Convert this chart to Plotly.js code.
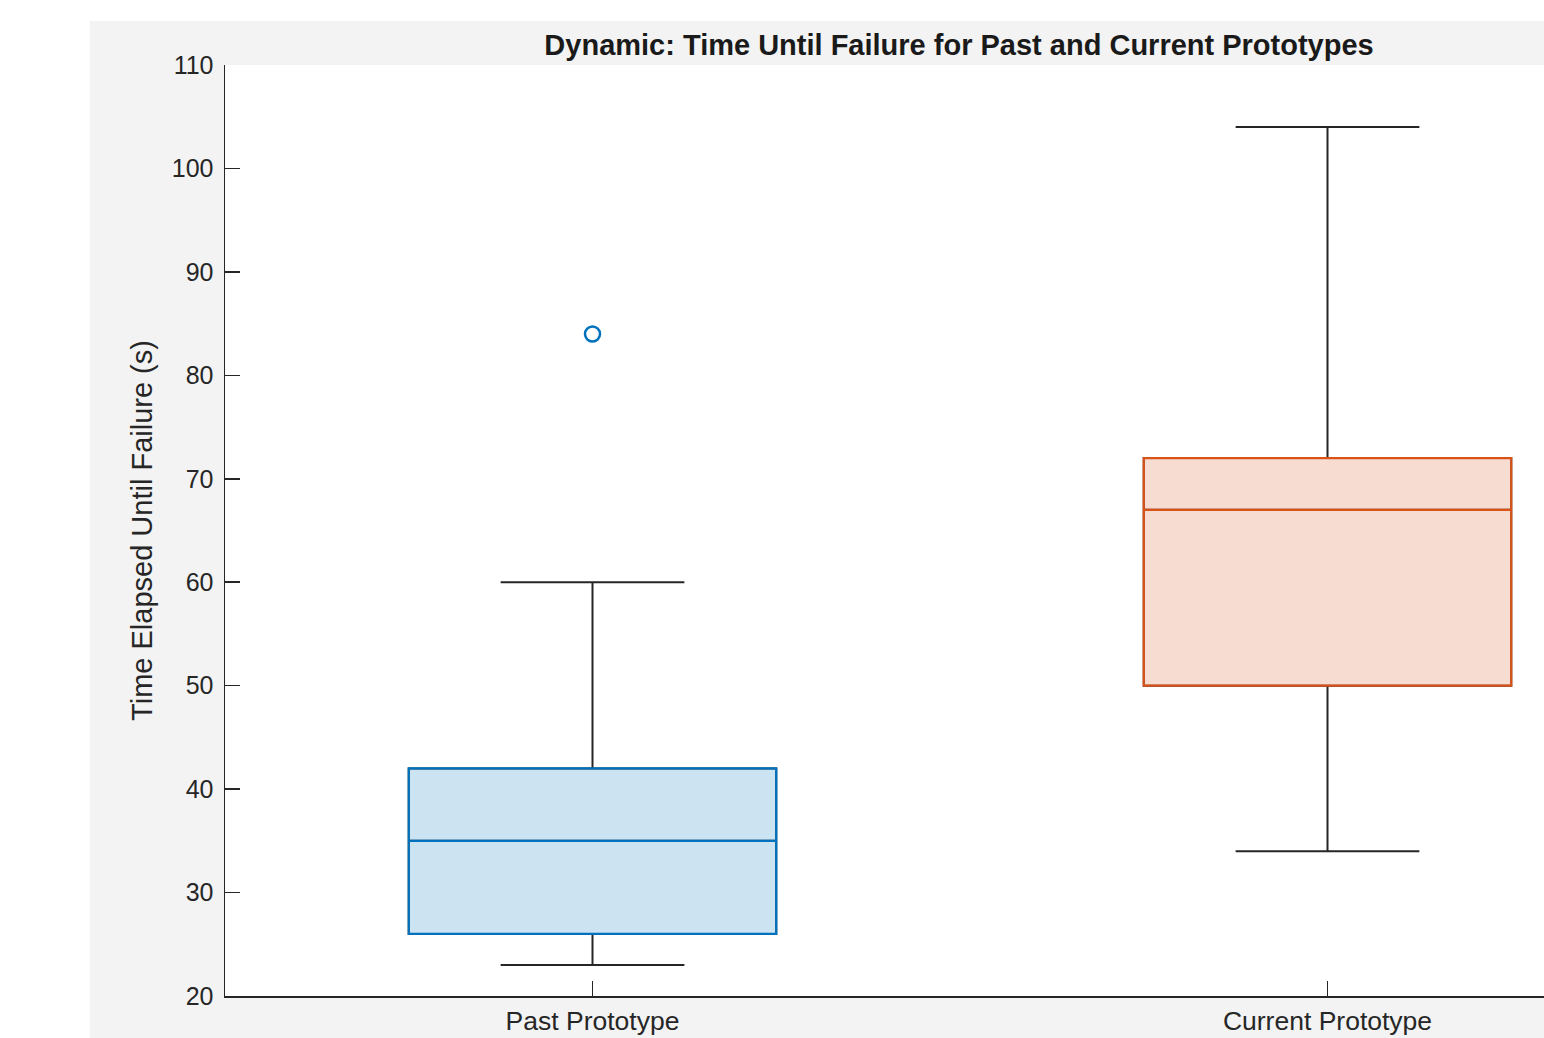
<!DOCTYPE html>
<html>
<head>
<meta charset="utf-8">
<script src="https://cdn.plot.ly/plotly-3.0.1.min.js"></script>
<style>
  html, body { margin: 0; padding: 0; background: #ffffff; overflow: hidden; width: 1544px; height: 1038px; }
  #chart { position: absolute; left: 90px; top: 21px; width: 1454px; height: 1017px; }
</style>
</head>
<body>
<div id="chart"></div>
<script>
// ---- Data ----
const categories = ['Past Prototype', 'Current Prototype'];
const lowerWhisker = [23, 34];
const q1Values = [26, 50];
const medianValues = [35, 67];
const q3Values = [42, 72];
const upperWhisker = [60, 104];
const outlierCategories = ['Past Prototype'];
const outlierValues = [84];
const yTickValues = [20, 30, 40, 50, 60, 70, 80, 90, 100, 110];

const lineColors = ['#0072BD', '#D95319'];
const fillColors = ['rgba(0,114,189,0.2)', 'rgba(217,83,25,0.2)'];
const whiskerColor = '#262626';

const FONT = '"Liberation Sans", Arial, Helvetica, sans-serif';

const traces = [];
// Whisker layer (dark gray) underneath
categories.forEach((c, i) => {
  traces.push({
    type: 'box', x: [c],
    q1: [q1Values[i]], median: [medianValues[i]], q3: [q3Values[i]],
    lowerfence: [lowerWhisker[i]], upperfence: [upperWhisker[i]],
    width: 0.5, whiskerwidth: 0.5,
    line: { color: whiskerColor, width: 2 },
    fillcolor: 'rgba(0,0,0,0)',
    hoverinfo: 'skip', showlegend: false
  });
});
// Coloured box layer on top
categories.forEach((c, i) => {
  traces.push({
    type: 'box', x: [c],
    q1: [q1Values[i]], median: [medianValues[i]], q3: [q3Values[i]],
    lowerfence: [q1Values[i]], upperfence: [q3Values[i]],
    width: 0.5, whiskerwidth: 0,
    line: { color: lineColors[i], width: 2.2 },
    fillcolor: fillColors[i],
    hoverinfo: 'skip', showlegend: false
  });
});
// Outliers
traces.push({
  type: 'scatter', mode: 'markers',
  x: outlierCategories, y: outlierValues,
  marker: { symbol: 'circle-open', size: 15, color: lineColors[0], line: { width: 2.5, color: lineColors[0] } },
  hoverinfo: 'skip', showlegend: false
});

const layout = {
  width: 1454, height: 1017,
  margin: { l: 135, r: 0, t: 44, b: 42, pad: 0 },
  paper_bgcolor: '#f3f3f3',
  plot_bgcolor: '#ffffff',
  boxmode: 'overlay',
  showlegend: false,
  font: { family: FONT, color: '#262626', size: 26 },
  title: {
    text: 'Dynamic: Time Until Failure for Past and Current Prototypes',
    font: { family: FONT, size: 29, color: '#1a1a1a', weight: 'bold' },
    xref: 'paper', x: 0.5565, xanchor: 'center',
    yref: 'container', y: 1 - 24 / 1017, yanchor: 'middle'
  },
  xaxis: {
    type: 'category',
    categoryorder: 'array', categoryarray: categories,
    range: [-0.5, -0.5 + 1319 / 735],
    showline: true, linecolor: '#262626', linewidth: 1.5,
    ticks: 'inside', ticklen: 15, tickwidth: 1.5, tickcolor: '#262626',
    showgrid: false, zeroline: false,
    ticklabelstandoff: 1,
    tickfont: { family: FONT, size: 26.5, color: '#262626' },
    fixedrange: true
  },
  yaxis: {
    range: [20, 110],
    tickvals: yTickValues,
    ticktext: yTickValues.map(String),
    showline: true, linecolor: '#262626', linewidth: 1.5,
    ticks: 'inside', ticklen: 15, tickwidth: 1.5, tickcolor: '#262626',
    showgrid: false, zeroline: false,
    ticklabelstandoff: 5,
    tickfont: { family: FONT, size: 25, color: '#262626' },
    title: { text: 'Time Elapsed Until Failure (s)', font: { family: FONT, size: 29, color: '#262626' }, standoff: 10 },
    fixedrange: true
  }
};

Plotly.newPlot('chart', traces, layout, { displayModeBar: false, staticPlot: true });
</script>
</body>
</html>
